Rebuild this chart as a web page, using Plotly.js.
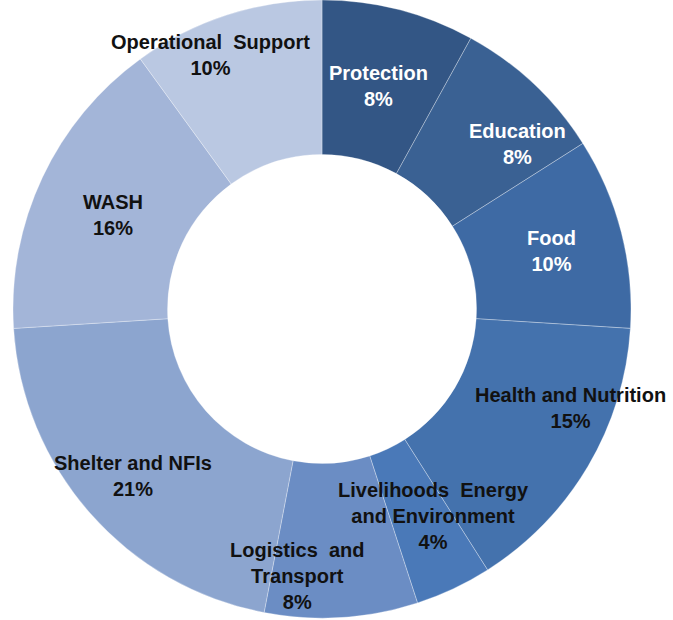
<!DOCTYPE html>
<html>
<head>
<meta charset="utf-8">
<script src="https://cdn.plot.ly/plotly-3.0.1.min.js"></script>
<style>html,body{margin:0;padding:0;background:#fff;}#chart{width:673px;height:620px;}</style>
</head>
<body>
<div id="chart"></div>
<script>
// Data
const categories = ["Protection","Education","Food","Health and Nutrition","Livelihoods Energy and Environment","Logistics and Transport","Shelter and NFIs","WASH","Operational Support"];
const shares = [8, 8, 10, 15, 4, 8, 21, 16, 10];
const labelLines = ["Protection","Education","Food","Health and Nutrition","Livelihoods  Energy<br>and Environment","Logistics  and<br>Transport","Shelter and NFIs","WASH","Operational  Support"];

// Styles
const colors = ["#335685","#3a6193","#3e6aa4","#4472ad","#4a79b8","#6b8dc4","#8ca5cf","#a3b5d8","#bac8e2"];
const textColors = ["#ffffff","#ffffff","#ffffff","#111111","#111111","#111111","#111111","#111111","#111111"];
// label centre positions in pixels
const labelPos = [[378,86],[517,144],[551,251],[570,408],[433,516],[297,576],[133,476],[113,215],[210,55]];

const W = 673, H = 620;
const annotations = categories.map((c, i) => ({
  text: labelLines[i] + "<br>" + shares[i] + "%",
  x: labelPos[i][0] / W,
  y: 1 - labelPos[i][1] / H,
  xref: "paper", yref: "paper",
  xanchor: "center", yanchor: "middle",
  showarrow: false,
  font: {family: "Liberation Sans, Arial, sans-serif", size: 20, color: textColors[i], weight: "bold"},
  align: "center"
}));

const trace = {
  type: "pie",
  labels: categories,
  values: shares,
  hole: 0.5,
  sort: false,
  direction: "clockwise",
  rotation: 0,
  textinfo: "none",
  hoverinfo: "none",
  marker: {colors: colors, line: {color: "rgba(255,255,255,0.3)", width: 1}},
  domain: {x: [13/W, 631/W], y: [2/H, 1]},
  showlegend: false
};

Plotly.newPlot("chart", [trace], {
  width: W, height: H,
  margin: {l: 0, r: 0, t: 0, b: 0},
  paper_bgcolor: "#ffffff",
  showlegend: false,
  annotations: annotations
}, {displayModeBar: false, staticPlot: true});
</script>
</body>
</html>
